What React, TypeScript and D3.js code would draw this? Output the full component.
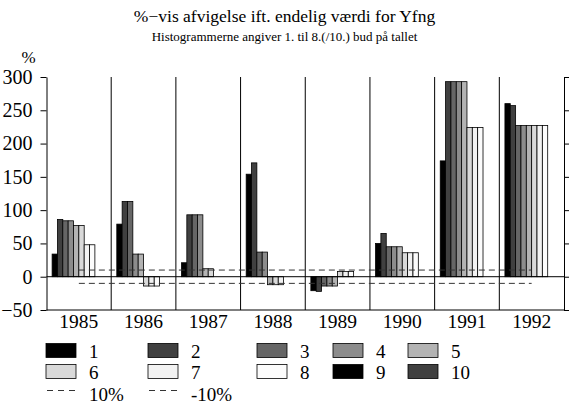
import { useRef, useEffect } from "react";
import * as d3 from "d3";

// years on the x axis
const years = ["1985", "1986", "1987", "1988", "1989", "1990", "1991", "1992"];

// % deviation from the final value, bid 1..10 (null = no bar)
const bid1 = [34, 79, 21, 154, -21, 50, 174, 260];
const bid2 = [86, 113, 93, 171, -22, 65, 293, 257];
const bid3 = [84, 113, 93, 37, -14, 45, 293, 227];
const bid4 = [84, 34, 93, 37, -14, 45, 293, 227];
const bid5 = [77, 34, 12, -12, -14, 45, 293, 227];
const bid6 = [77, -14, 12, -12, 8, 36, 224, 227];
const bid7 = [48, -14, null, -12, 8, 36, 224, 227];
const bid8 = [48, -14, null, null, 8, 36, 224, 227];
const bid9 = [null, null, null, null, null, null, null, null];
const bid10 = [null, null, null, null, null, null, null, null];

// reference lines
const plus10 = [10, 10, 10, 10, 10, 10, 10, 10];
const minus10 = [-10, -10, -10, -10, -10, -10, -10, -10];

const seriesNames = ["1", "2", "3", "4", "5", "6", "7", "8", "9", "10"];
const yTicks = [-50, 0, 50, 100, 150, 200, 250, 300];

const FONT = "'Liberation Serif', 'Times New Roman', serif";

export default function App() {
  const ref = useRef(null);

  useEffect(() => {
    const series = [bid1, bid2, bid3, bid4, bid5, bid6, bid7, bid8, bid9, bid10];
    const colors = ["#000000", "#404040", "#666666", "#8c8c8c", "#b3b3b3",
      "#d9d9d9", "#f2f2f2", "#fcfcfc", "#000000", "#404040"];

    const svg = d3.select(ref.current);
    svg.selectAll("*").remove();
    svg.attr("font-family", FONT);

    const left = 46.5, right = 564, top = 77, bottom = 310;

    const x0 = d3.scaleBand().domain(years).range([left, right]).padding(0);
    const x1 = d3.scaleBand()
      .domain(seriesNames)
      .range([0, x0.bandwidth()])
      .paddingInner(0)
      .paddingOuter(1.05);
    const y = d3.scaleLinear().domain([-50, 300]).range([bottom, top]);

    // title
    svg.append("text")
      .attr("x", 284.5).attr("y", 22)
      .attr("text-anchor", "middle")
      .attr("font-size", 17.5)
      .text("%\u2212vis afvigelse ift. endelig værdi for Yfng");
    svg.append("text")
      .attr("x", 284.5).attr("y", 41)
      .attr("text-anchor", "middle")
      .attr("font-size", 13)
      .text("Histogrammerne angiver 1. til 8.(/10.) bud på tallet");

    svg.append("text")
      .attr("x", 28.5).attr("y", 62.5)
      .attr("text-anchor", "middle")
      .attr("font-size", 17)
      .text("%");

    // separators between years
    svg.append("g")
      .selectAll("line")
      .data(years.slice(1))
      .join("line")
      .attr("x1", (d) => x0(d)).attr("x2", (d) => x0(d))
      .attr("y1", top).attr("y2", bottom)
      .attr("stroke", "#000").attr("stroke-width", 1);

    // bars
    series.forEach((vals, si) => {
      svg.append("g")
        .selectAll("rect")
        .data(vals.map((v, i) => ({ v, year: years[i] })).filter((d) => d.v !== null))
        .join("rect")
        .attr("x", (d) => x0(d.year) + x1(seriesNames[si]))
        .attr("y", (d) => y(Math.max(0, d.v)))
        .attr("width", x1.bandwidth())
        .attr("height", (d) => Math.abs(y(d.v) - y(0)))
        .attr("fill", colors[si])
        .attr("stroke", "#000")
        .attr("stroke-width", 0.8);
    });

    // zero line
    svg.append("line")
      .attr("x1", left).attr("x2", right)
      .attr("y1", y(0)).attr("y2", y(0))
      .attr("stroke", "#000").attr("stroke-width", 1);

    // +/-10% dashed lines
    const line = d3.line()
      .x((d, i) => x0(years[i]) + x0.bandwidth() / 2)
      .y((d) => y(d));
    [plus10, minus10].forEach((vals) => {
      svg.append("path")
        .attr("d", line(vals))
        .attr("fill", "none")
        .attr("stroke", "#333")
        .attr("stroke-width", 1)
        .attr("stroke-dasharray", "6,4");
    });

    // axes
    const yAxis = svg.append("g")
      .attr("transform", `translate(${left},0)`)
      .call(d3.axisLeft(y).tickValues(yTicks).tickSize(6).tickSizeOuter(0).tickPadding(8));
    yAxis.selectAll("text").attr("font-size", 20).attr("font-family", FONT).attr("fill", "#000");

    svg.append("g")
      .attr("transform", `translate(${right},0)`)
      .call(d3.axisRight(y).tickValues(yTicks).tickSize(5).tickSizeOuter(0).tickFormat(() => ""));

    svg.append("line")
      .attr("x1", left).attr("x2", right)
      .attr("y1", bottom).attr("y2", bottom)
      .attr("stroke", "#000");

    svg.append("g")
      .selectAll("text")
      .data(years)
      .join("text")
      .attr("x", (d) => x0(d) + x0.bandwidth() / 2)
      .attr("y", 327.5)
      .attr("text-anchor", "middle")
      .attr("font-size", 19.5)
      .text((d) => d);

    // legend
    const colX = [46, 148, 257, 333, 408];
    const rowY = [343.5, 364.5];
    const legend = svg.append("g");
    seriesNames.forEach((name, i) => {
      const cx = colX[i % 5];
      const ry = rowY[Math.floor(i / 5)];
      legend.append("rect")
        .attr("x", cx).attr("y", ry)
        .attr("width", 30).attr("height", 14)
        .attr("fill", colors[i])
        .attr("stroke", "#000").attr("stroke-width", 0.8);
      legend.append("text")
        .attr("x", cx + 43).attr("y", ry + 14.5)
        .attr("font-size", 19)
        .text(name);
    });
    [["10%", colX[0]], ["-10%", colX[1]]].forEach(([label, cx]) => {
      legend.append("line")
        .attr("x1", cx + 1).attr("x2", cx + 29)
        .attr("y1", 390.5).attr("y2", 390.5)
        .attr("stroke", "#333")
        .attr("stroke-dasharray", "6,5");
      legend.append("text")
        .attr("x", cx + 43).attr("y", 400.5)
        .attr("font-size", 19)
        .text(label);
    });
  }, []);

  return (
    <svg
      ref={ref}
      width={569}
      height={405}
      style={{ position: "absolute", left: 0, top: 0, background: "#fff" }}
    />
  );
}
